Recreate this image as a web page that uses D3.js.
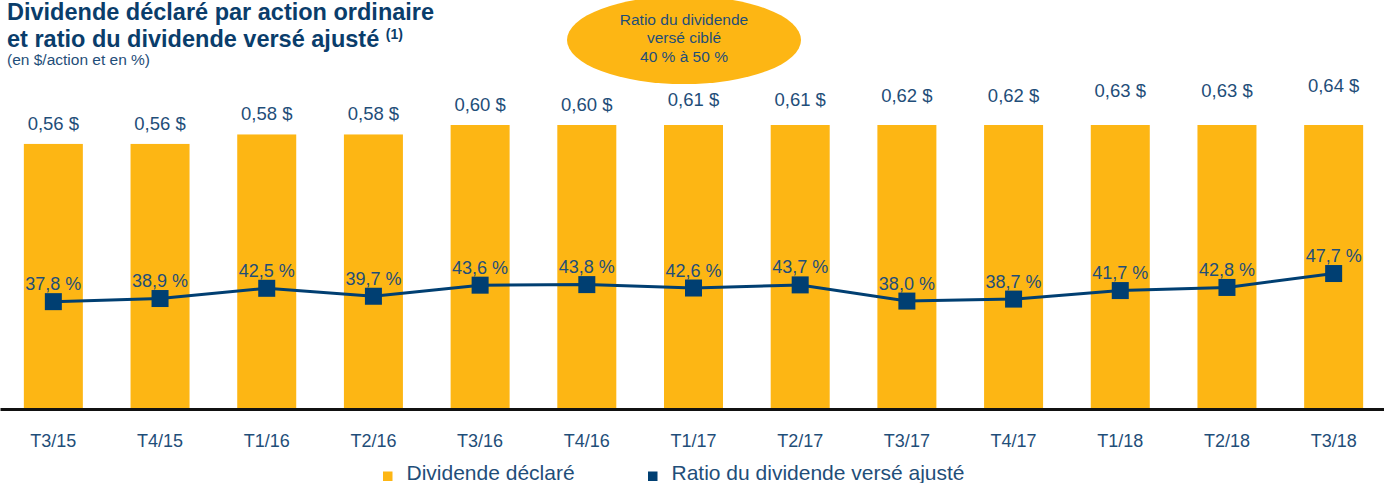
<!DOCTYPE html>
<html>
<head>
<meta charset="utf-8">
<script src="https://cdn.jsdelivr.net/npm/d3@7"></script>
<style>
  body { margin: 0; background: #fff; }
  text { font-family: "Liberation Sans", Arial, sans-serif; }
</style>
</head>
<body>
<div id="chart"></div>
<script>
// data
var quarters = ["T3/15", "T4/15", "T1/16", "T2/16", "T3/16", "T4/16", "T1/17", "T2/17", "T3/17", "T4/17", "T1/18", "T2/18", "T3/18"];
var dividends = [0.56, 0.56, 0.58, 0.58, 0.60, 0.60, 0.61, 0.61, 0.62, 0.62, 0.63, 0.63, 0.64];
var ratios = [37.8, 38.9, 42.5, 39.7, 43.6, 43.8, 42.6, 43.7, 38.0, 38.7, 41.7, 42.8, 47.7];
var legendLabels = ["Dividende déclaré", "Ratio du dividende versé ajusté"];
var targetLines = ["Ratio du dividende", "versé ciblé", "40 % à 50 %"];

var gold = "#FDB614",
    navy = "#003F72",
    textBlue = "#1F4E79";

var width = 1384, height = 483;
var fr = d3.formatLocale({decimal: ",", thousands: " ", grouping: [3], currency: ["", " $"]});
var fmtDiv = fr.format(".2f"), fmtPct = fr.format(".1f");

var svg = d3.select("#chart").append("svg")
    .attr("width", width)
    .attr("height", height);

// scales
var x = d3.scaleBand()
    .domain(quarters)
    .range([0, 1387])
    .paddingInner(0.447)
    .paddingOuter(0.2235);

var y = d3.scaleLinear()
    .domain([0, 0.60])
    .range([409, 125]);

var yPct = d3.scaleLinear()
    .domain([0, 100])
    .range([409, 125]);

// plot area clip (bars are cut at the top of the plot area)
svg.append("clipPath")
    .attr("id", "plot")
  .append("rect")
    .attr("x", 0)
    .attr("y", y(0.60))
    .attr("width", width)
    .attr("height", y(0) - y(0.60));

// bars
svg.append("g")
    .attr("clip-path", "url(#plot)")
  .selectAll("rect")
  .data(dividends)
  .enter().append("rect")
    .attr("x", function(d, i) { return x(quarters[i]); })
    .attr("y", function(d) { return y(d); })
    .attr("width", x.bandwidth())
    .attr("height", function(d) { return y(0) - y(d); })
    .attr("fill", gold);

// bar labels
svg.append("g").selectAll("text")
  .data(dividends)
  .enter().append("text")
    .attr("x", function(d, i) { return x(quarters[i]) + x.bandwidth() / 2; })
    .attr("y", function(d) { return y(d) - 14; })
    .attr("text-anchor", "middle")
    .attr("font-size", 18.5)
    .attr("fill", textBlue)
    .text(function(d) { return fmtDiv(d) + " $"; });

// x axis
var xAxis = d3.axisBottom(x).tickSize(0).tickPadding(25);
var gx = svg.append("g")
    .attr("transform", "translate(0," + y(0) + ")")
    .call(xAxis);
gx.select(".domain").attr("stroke", "#111").attr("stroke-width", 3);
gx.selectAll("text")
    .attr("font-size", 18)
    .attr("font-family", "Liberation Sans, Arial, sans-serif")
    .attr("fill", textBlue);

// ratio line
var line = d3.line()
    .x(function(d, i) { return x(quarters[i]) + x.bandwidth() / 2; })
    .y(function(d) { return yPct(d); });

svg.append("path")
    .datum(ratios)
    .attr("fill", "none")
    .attr("stroke", navy)
    .attr("stroke-width", 3)
    .attr("d", line);

var sq = 17;
svg.append("g").selectAll("rect")
  .data(ratios)
  .enter().append("rect")
    .attr("x", function(d, i) { return x(quarters[i]) + x.bandwidth() / 2 - sq / 2; })
    .attr("y", function(d) { return yPct(d) - sq / 2; })
    .attr("width", sq)
    .attr("height", sq)
    .attr("fill", navy);

svg.append("g").selectAll("text")
  .data(ratios)
  .enter().append("text")
    .attr("x", function(d, i) { return x(quarters[i]) + x.bandwidth() / 2; })
    .attr("y", function(d) { return yPct(d) - 11.5; })
    .attr("text-anchor", "middle")
    .attr("font-size", 18)
    .attr("fill", textBlue)
    .text(function(d) { return fmtPct(d) + " %"; });

// title
var title = svg.append("text")
    .attr("x", 7)
    .attr("y", 20)
    .attr("font-size", 23.5)
    .attr("font-weight", "bold")
    .attr("fill", "#0A3D6B");
title.append("tspan").attr("x", 7).text("Dividende déclaré par action ordinaire");
title.append("tspan").attr("x", 7).attr("dy", 27).text("et ratio du dividende versé ajusté ");
title.append("tspan").attr("font-size", 14).attr("dy", -8).text("(1)");

svg.append("text")
    .attr("x", 7)
    .attr("y", 65)
    .attr("font-size", 15.5)
    .attr("fill", textBlue)
    .text("(en $/action et en %)");

// target ratio bubble
svg.append("ellipse")
    .attr("cx", 684)
    .attr("cy", 40)
    .attr("rx", 117)
    .attr("ry", 44)
    .attr("fill", gold);

svg.append("g").selectAll("text")
  .data(targetLines)
  .enter().append("text")
    .attr("x", 684)
    .attr("y", function(d, i) { return 25 + i * 18.3; })
    .attr("text-anchor", "middle")
    .attr("font-size", 15.5)
    .attr("fill", textBlue)
    .text(function(d) { return d; });

// legend
var legendX = [383, 648];
var legendColors = [gold, navy];
var lg = svg.append("g").selectAll("g")
  .data(legendLabels)
  .enter().append("g")
    .attr("transform", function(d, i) { return "translate(" + legendX[i] + ",471.5)"; });
lg.append("rect")
    .attr("width", 9.5)
    .attr("height", 9.5)
    .attr("fill", function(d, i) { return legendColors[i]; });
lg.append("text")
    .attr("x", 23.5)
    .attr("y", 8.5)
    .attr("font-size", 21)
    .attr("fill", textBlue)
    .text(function(d) { return d; });
</script>
</body>
</html>
